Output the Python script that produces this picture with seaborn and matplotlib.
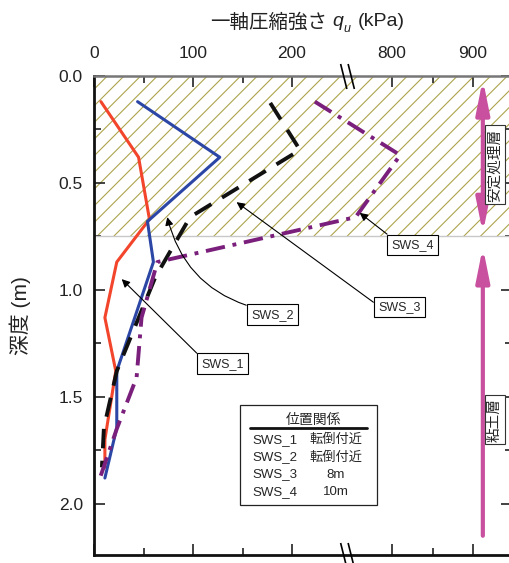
import numpy as np
import pandas as pd
import matplotlib
matplotlib.use('Agg')
import matplotlib.pyplot as plt
import matplotlib.ticker as mticker
from matplotlib.path import Path
from matplotlib.patches import Rectangle
import seaborn as sns


# 1. Data (q_u in kPa, depth in m) ---------------------------------------------

sws1_q = [7, 45, 56, 23, 11, 22, 11, 11]
sws1_d = [0.12, 0.38, 0.67, 0.87, 1.13, 1.38, 1.70, 1.83]

sws2_q = [44, 127, 54, 60, 23, 23, 11]
sws2_d = [0.12, 0.38, 0.68, 0.87, 1.38, 1.645, 1.88]

sws3_q = [178, 208, 97, 62, 23, 10, 8]
sws3_d = [0.126, 0.346, 0.66, 0.94, 1.38, 1.645, 1.83]

sws4_q = [223, 810, 755, 64, 48, 43, 23, 6]
sws4_d = [0.12, 0.37, 0.66, 0.87, 1.13, 1.41, 1.65, 1.88]

x_ticks = [0, 100, 200, 800, 900]
x_minor = [50, 150, 850]
y_ticks = [0.0, 0.5, 1.0, 1.5, 2.0]

table_names = ['SWS_1', 'SWS_2', 'SWS_3', 'SWS_4']
table_pos = ['転倒付近', '転倒付近', '8m', '10m']

stab_layer = 0.75   # bottom of the stabilised layer (m)


# 2. Broken x axis: 0-250 and 750-950 kPa ---------------------------------------

def fwd(q):
    q = np.asarray(q, float)
    return np.where(q <= 250, q * 0.99,
                    np.where(q >= 750, 257.5 + (q - 750) * 0.81,
                             247.5 + (q - 250) * 0.02))


def inv(u):
    u = np.asarray(u, float)
    return np.where(u <= 247.5, u / 0.99,
                    np.where(u >= 257.5, 750 + (u - 257.5) / 0.81,
                             250 + (u - 247.5) / 0.02))


# 3. Plot -----------------------------------------------------------------------

sns.set_style('ticks')
plt.rcParams['font.family'] = ['Liberation Sans', 'Noto Sans CJK JP']
plt.rcParams['hatch.linewidth'] = 0.8

fig = plt.figure(figsize=(5.09, 5.63), dpi=100)
ax = fig.add_axes([94 / 509, 1 - 555 / 563, 418 / 509, 479 / 563])
ax.set_xscale('function', functions=(fwd, inv))

# hatched stabilised layer
ax.axhspan(0, stab_layer, facecolor='white', edgecolor='#aea44c', hatch='//', lw=0, zorder=0)
ax.axhline(stab_layer, color='#c8c8c8', lw=1, zorder=1)

series = [
    (sws1_q, sws1_d, '#f2452b', 2.2, '-'),
    (sws2_q, sws2_d, '#2b46a5', 2.2, '-'),
    (sws3_q, sws3_d, '#111111', 2.8, (0, (5, 3.2))),
    (sws4_q, sws4_d, '#7a1f7c', 2.8, (0, (5, 2, 1, 2))),
]
for q, d, c, lw, ls in series:
    df = pd.DataFrame({'q': q, 'depth': d})
    sns.lineplot(data=df, x='q', y='depth', sort=False, estimator=None,
                 color=c, lw=lw, linestyle=ls, ax=ax, zorder=3)

ax.set_xlim(0, 948)
ax.set_ylim(2.24, 0)

# ticks
ax.xaxis.set_major_locator(mticker.FixedLocator(x_ticks))
ax.xaxis.set_minor_locator(mticker.FixedLocator(x_minor))
ax.xaxis.set_major_formatter(mticker.FixedFormatter([str(t) for t in x_ticks]))
ax.yaxis.set_major_locator(mticker.FixedLocator(y_ticks))
ax.yaxis.set_minor_locator(mticker.MultipleLocator(0.25))
ax.yaxis.set_major_formatter(mticker.FormatStrFormatter('%.1f'))
ax.tick_params(axis='x', which='both', top=True, bottom=True, labeltop=True,
               labelbottom=False, direction='in', pad=11, labelsize=12.5, colors='#222')
ax.tick_params(axis='y', which='both', left=True, right=True, direction='in',
               pad=8, labelsize=12.5, colors='#222')
ax.tick_params(which='major', length=8, width=1.2)
ax.tick_params(which='minor', length=5, width=1.2)

ax.set_xlabel('')
ax.set_ylabel('深度 (m)', fontsize=15, labelpad=20, color='#222')

# x label on top, built from pieces so the italic q_u sits in the CJK text
t1 = ax.text(0.2775, 1.111, '一軸圧縮強さ', transform=ax.transAxes, ha='left',
             va='center', fontsize=14, color='#222')
t2 = ax.annotate('q', xy=(1, 0.12), xycoords=t1, xytext=(4, 0), textcoords='offset points',
                 ha='left', va='bottom', fontsize=14, style='italic', color='#222')
t3 = ax.annotate('u', xy=(1, 0), xycoords=t2, xytext=(0, -4), textcoords='offset points',
                 ha='left', va='bottom', fontsize=9, style='italic', color='#222')
ax.annotate('(kPa)', xy=(1, 0), xycoords=t3, xytext=(5, 4), textcoords='offset points',
            ha='left', va='bottom', fontsize=14, color='#222')

for s in ['left', 'bottom']:
    ax.spines[s].set_linewidth(2)
    ax.spines[s].set_color('#111')
ax.spines['top'].set_linewidth(1.8)
ax.spines['top'].set_color('#777')

# axis break marks
brk = Path([(-0.55, 1), (-0.05, -1), (0.05, 1), (0.55, -1)],
           [Path.MOVETO, Path.LINETO, Path.MOVETO, Path.LINETO])
ax.plot([500, 500], [0, 1], transform=ax.get_xaxis_transform(), ls='none',
        marker=brk, ms=18, mec='black', mew=1.2, clip_on=False, zorder=5)

# annotations
box = dict(boxstyle='square,pad=0.35', fc='white', ec='black', lw=0.8)
arr = dict(arrowstyle='-|>', color='black', lw=0.8, mutation_scale=12, shrinkA=0, shrinkB=0)
ax.annotate('SWS_1', xy=(28, 0.95), xytext=(130, 1.346), ha='center', va='center',
            fontsize=9, bbox=box, arrowprops={**arr, 'relpos': (0.0, 1.0)}, zorder=6)
ax.annotate('SWS_2', xy=(74, 0.66), xytext=(180, 1.117), ha='center', va='center',
            fontsize=9, bbox=box,
            arrowprops={**arr, 'relpos': (0.18, 1.0), 'connectionstyle': 'arc3,rad=-0.3'}, zorder=6)
ax.annotate('SWS_3', xy=(144, 0.59), xytext=(809, 1.08), ha='center', va='center',
            fontsize=9, bbox=box, arrowprops={**arr, 'relpos': (0.0, 0.6)}, zorder=6)
ax.annotate('SWS_4', xy=(760, 0.64), xytext=(825, 0.79), ha='center', va='center',
            fontsize=9, bbox=box, arrowprops={**arr, 'relpos': (0.05, 1.0)}, zorder=6)

# layer arrows
mag = '#c8509e'
harr = dict(color=mag, lw=3, mutation_scale=20, shrinkA=0, shrinkB=0)
ax.annotate('', xy=(912, 0.015), xytext=(912, 0.735),
            arrowprops={**harr, 'arrowstyle': '<|-|>,head_length=1.0,head_width=0.2'}, zorder=4)
ax.annotate('', xy=(912, 0.80), xytext=(912, 2.15),
            arrowprops={**harr, 'arrowstyle': '-|>,head_length=1.0,head_width=0.2'}, zorder=4)
lbox = dict(boxstyle='square,pad=0.2', fc='white', ec='#333', lw=0.8)
ax.text(927, 0.416, '安定処理層', rotation=90, ha='center', va='center', fontsize=10.5, bbox=lbox, zorder=6)
ax.text(927, 1.607, '粘土層', rotation=90, ha='center', va='center', fontsize=10.5, bbox=lbox, zorder=6)

# position table
ax.add_patch(Rectangle((0.349, 0.104), 0.328, 0.209, transform=ax.transAxes,
                       fc='white', ec='#222', lw=0.9, zorder=6))
ax.text(0.526, 0.282, '位置関係', transform=ax.transAxes, ha='center', va='center',
        fontsize=10, zorder=7)
ax.plot([0.373, 0.653], [0.266, 0.266], transform=ax.transAxes, color='#111', lw=2, zorder=7)
for i, (n, p) in enumerate(zip(table_names, table_pos)):
    yy = 0.240 - i * 0.036
    ax.text(0.378, yy, n, transform=ax.transAxes, ha='left', va='center', fontsize=9.5, zorder=7)
    ax.text(0.579, yy, p, transform=ax.transAxes, ha='center', va='center', fontsize=9.5, zorder=7)

plt.savefig('out.png', dpi=100)
